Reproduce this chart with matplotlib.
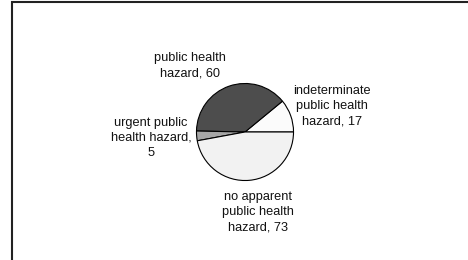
import matplotlib
matplotlib.use("Agg")
import matplotlib.pyplot as plt
from matplotlib.patches import Rectangle

categories = ["indeterminate\npublic health\nhazard", "public health\nhazard",
              "urgent public\nhealth hazard,", "no apparent\npublic health\nhazard"]
values = [17, 60, 5, 73]
colors = ["#fbfbfb", "#4d4d4d", "#a6a6a6", "#f2f2f2"]

plt.rcParams['font.family'] = ['Liberation Sans', 'DejaVu Sans']

W, H = 468, 260
fig = plt.figure(figsize=(W / 100, H / 100), dpi=100)
fig.patch.set_facecolor("white")

# outer frame (extends past right and bottom edges)
fig.patches.append(Rectangle((11.5 / W, -0.1), 1.2, (H - 2.5) / H + 0.1,
                             transform=fig.transFigure, fill=False,
                             edgecolor="#222222", linewidth=1.5))

cx, cy, r = 245, 132, 49
ax = fig.add_axes([(cx - r) / W, (H - cy - r) / H, 2 * r / W, 2 * r / H])
wedges, _ = ax.pie(values, colors=colors, startangle=0, counterclock=True,
                   wedgeprops=dict(edgecolor="black", linewidth=0.8))
ax.set_xlim(-1.01, 1.01)
ax.set_ylim(-1.01, 1.01)
ax.set_aspect("equal")

labels = [
    f"indeterminate\npublic health\nhazard, {values[0]}",
    f"public health\nhazard, {values[1]}",
    f"urgent public\nhealth hazard,\n{values[2]}",
    f"no apparent\npublic health\nhazard, {values[3]}",
]
pos = [(332, 106), (190, 66), (151, 138), (258, 212)]
for lab, (x, y) in zip(labels, pos):
    fig.text(x / W, 1 - y / H, lab, ha="center", va="center",
             fontsize=9.2, linespacing=1.37, color="#111111")

fig.savefig("out.png", dpi=100)
